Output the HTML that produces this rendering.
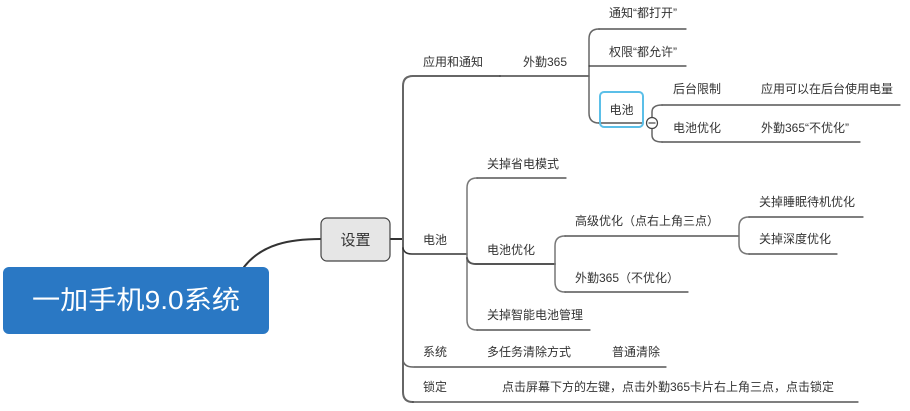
<!DOCTYPE html>
<html><head><meta charset="utf-8"><style>
html,body{margin:0;padding:0;background:#fff;width:910px;height:411px;overflow:hidden}
svg{display:block}
text{font-family:"Liberation Sans","Noto Sans CJK SC",sans-serif;font-size:12px;fill:#333}
</style></head><body>
<svg width="910" height="411" viewBox="0 0 910 411" xmlns="http://www.w3.org/2000/svg">
<g fill="none" stroke-linecap="round">
<!-- root to settings -->
<path d="M244 267 C 262 244, 290 239, 321 239" stroke="#333" stroke-width="2"/>
<!-- settings to trunk -->
<path d="M390 239 L403 239" stroke="#333" stroke-width="2"/>
<!-- trunk -->
<path d="M413 76 Q403 76 403 86 L403 392 Q403 402 413 402" stroke="#666" stroke-width="2"/>
<path d="M413 76 L500 76" stroke="#666" stroke-width="2"/>
<path d="M500 76 L589 76" stroke="#444" stroke-width="1.5"/>
<!-- 外勤365 subtree -->
<path d="M599 29 Q589 29 589 39 L589 113 Q589 123 599 123" stroke="#666" stroke-width="1.5"/>
<path d="M599 29 L686 29" stroke="#333" stroke-width="1.2"/>
<path d="M589 66 Q589 66 599 66 L686 66" stroke="#333" stroke-width="1.2"/>
<path d="M599 123 L643 123" stroke="#333" stroke-width="1.2"/>
<path d="M662 105 Q652 105 652 112 L652 135 Q652 142 662 142" stroke="#666" stroke-width="1.5"/>
<path d="M662 105 L900 105" stroke="#333" stroke-width="1.2"/>
<path d="M662 142 L860 142" stroke="#333" stroke-width="1.2"/>
<!-- 电池 subtree -->
<path d="M403 248 Q404 254 412 254 L467 254" stroke="#333" stroke-width="1.5"/>
<path d="M477 178 Q467 178 467 188 L467 320 Q467 330 477 330" stroke="#777" stroke-width="1.5"/>
<path d="M477 178 L566 178" stroke="#333" stroke-width="1.2"/>
<path d="M467 258 Q468 264 476 264 L555 264" stroke="#555" stroke-width="2"/>
<path d="M477 330 L590 330" stroke="#333" stroke-width="1.2"/>
<path d="M565 236 Q555 236 555 246 L555 282 Q555 292 565 292" stroke="#777" stroke-width="1.5"/>
<path d="M565 236 L739 236" stroke="#333" stroke-width="1.2"/>
<path d="M565 292 L688 292" stroke="#333" stroke-width="1.2"/>
<path d="M749 217 Q739 217 739 227 L739 244 Q739 254 749 254" stroke="#777" stroke-width="1.5"/>
<path d="M749 217 L863 217" stroke="#333" stroke-width="1.2"/>
<path d="M749 254 L837 254" stroke="#333" stroke-width="1.2"/>
<!-- 系统 / 锁定 -->
<path d="M413 367 L666 367" stroke="#333" stroke-width="1.2"/>
<path d="M403 360 Q404 367 413 367" stroke="#666" stroke-width="1.5"/>
<path d="M413 402 L858 402" stroke="#333" stroke-width="1.2"/>
</g>
<!-- root -->
<rect x="3" y="267" width="266" height="67" rx="6" fill="#2a78c4"/>
<text x="136" y="309" text-anchor="middle" style="font-size:26px;fill:#fff" textLength="208" lengthAdjust="spacingAndGlyphs">一加手机9.0系统</text>
<!-- settings -->
<rect x="321" y="218" width="69" height="43" rx="6" fill="#e6e6e6" stroke="#444" stroke-width="1.2"/>
<text x="355.5" y="245" text-anchor="middle" style="font-size:15px">设置</text>
<!-- 电池 selected node -->
<rect x="600" y="92" width="43" height="35" rx="4" fill="none" stroke="#5bbfe8" stroke-width="2"/>
<text x="621.5" y="114" text-anchor="middle">电池</text>
<circle cx="652" cy="123" r="5.5" fill="#fff" stroke="#444" stroke-width="1.2"/>
<path d="M648.5 123 L655.5 123" stroke="#444" stroke-width="1.2"/>
<!-- labels -->
<text x="423" y="66">应用和通知</text>
<text x="523" y="66">外勤365</text>
<text x="609" y="17">通知“都打开”</text>
<text x="609" y="56">权限“都允许”</text>
<text x="673" y="93">后台限制</text>
<text x="761" y="93">应用可以在后台使用电量</text>
<text x="673" y="132">电池优化</text>
<text x="761" y="132">外勤365“不优化”</text>
<text x="423" y="244">电池</text>
<text x="487" y="168">关掉省电模式</text>
<text x="487" y="254">电池优化</text>
<text x="575" y="225">高级优化（点右上角三点）</text>
<text x="759" y="206">关掉睡眠待机优化</text>
<text x="759" y="243">关掉深度优化</text>
<text x="575" y="282">外勤365（不优化）</text>
<text x="487" y="319">关掉智能电池管理</text>
<text x="423" y="356">系统</text>
<text x="487" y="356">多任务清除方式</text>
<text x="612" y="356">普通清除</text>
<text x="423" y="391">锁定</text>
<text x="502" y="391">点击屏幕下方的左键，点击外勤365卡片右上角三点，点击锁定</text>
</svg>
</body></html>
